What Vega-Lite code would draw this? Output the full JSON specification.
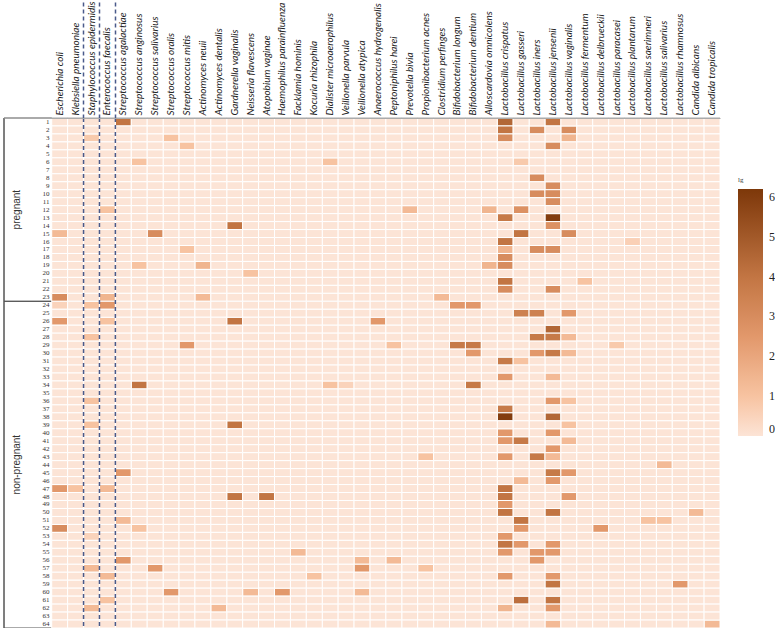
{
  "$schema": "https://vega.github.io/schema/vega-lite/v6.json",
  "padding": {"left": 3, "top": 0, "right": 0, "bottom": 0},
  "background": "white",
  "config": {"view": {"stroke": null}},
  "width": 716,
  "height": 510,
  "datasets": {
    "groups": [
      {"g": "pregnant", "a": 1, "b": 23, "m": 12},
      {"g": "non-pregnant", "a": 24, "b": 64, "m": 44}
    ],
    "dividers": [
      {"sp": "Staphylococcus epidermidis"},
      {"sp": "Enterococcus faecalis"},
      {"sp": "Streptococcus agalactiae"}
    ],
    "cells": [
      {"s":1,"sp":"Streptococcus agalactiae","v":4},{"s":1,"sp":"Lactobacillus crispatus","v":4.5},{"s":1,"sp":"Lactobacillus jensenii","v":4},
      {"s":2,"sp":"Lactobacillus crispatus","v":4},{"s":2,"sp":"Lactobacillus iners","v":3},{"s":2,"sp":"Lactobacillus vaginalis","v":3},
      {"s":3,"sp":"Staphylococcus epidermidis","v":0.8},{"s":3,"sp":"Streptococcus oralis","v":1},{"s":3,"sp":"Lactobacillus crispatus","v":3},{"s":3,"sp":"Lactobacillus vaginalis","v":1.5},
      {"s":4,"sp":"Streptococcus mitis","v":1},{"s":4,"sp":"Lactobacillus jensenii","v":3},
      {"s":6,"sp":"Streptococcus anginosus","v":1},{"s":6,"sp":"Dialister microaerophilus","v":1},{"s":6,"sp":"Lactobacillus gasseri","v":0.8},
      {"s":8,"sp":"Lactobacillus iners","v":3},
      {"s":9,"sp":"Lactobacillus jensenii","v":3},
      {"s":10,"sp":"Lactobacillus iners","v":3},{"s":10,"sp":"Lactobacillus jensenii","v":3},
      {"s":11,"sp":"Lactobacillus jensenii","v":3},
      {"s":12,"sp":"Enterococcus faecalis","v":1},{"s":12,"sp":"Prevotella bivia","v":1.3},{"s":12,"sp":"Alloscardovia omnicolens","v":1.5},{"s":12,"sp":"Lactobacillus gasseri","v":2.8},
      {"s":13,"sp":"Lactobacillus crispatus","v":3.8},{"s":13,"sp":"Lactobacillus jensenii","v":6},
      {"s":14,"sp":"Gardnerella vaginalis","v":4},{"s":14,"sp":"Lactobacillus jensenii","v":2.8},
      {"s":15,"sp":"Escherichia coli","v":1.3},{"s":15,"sp":"Streptococcus salivarius","v":3},{"s":15,"sp":"Lactobacillus gasseri","v":4},{"s":15,"sp":"Lactobacillus vaginalis","v":3},
      {"s":16,"sp":"Lactobacillus crispatus","v":4},{"s":16,"sp":"Lactobacillus plantarum","v":0.6},
      {"s":17,"sp":"Streptococcus mitis","v":1},{"s":17,"sp":"Lactobacillus crispatus","v":1.5},{"s":17,"sp":"Lactobacillus iners","v":3},{"s":17,"sp":"Lactobacillus jensenii","v":3},
      {"s":18,"sp":"Lactobacillus crispatus","v":3},
      {"s":19,"sp":"Streptococcus anginosus","v":1},{"s":19,"sp":"Actinomyces neuii","v":1.5},{"s":19,"sp":"Alloscardovia omnicolens","v":1.5},{"s":19,"sp":"Lactobacillus crispatus","v":3},
      {"s":20,"sp":"Neisseria flavescens","v":1},
      {"s":21,"sp":"Lactobacillus crispatus","v":4},{"s":21,"sp":"Lactobacillus fermentum","v":1},
      {"s":22,"sp":"Lactobacillus crispatus","v":3},{"s":22,"sp":"Lactobacillus jensenii","v":3},
      {"s":23,"sp":"Escherichia coli","v":3},{"s":23,"sp":"Enterococcus faecalis","v":1.5},{"s":23,"sp":"Actinomyces neuii","v":1.3},{"s":23,"sp":"Clostridium perfinges","v":1.3},
      {"s":24,"sp":"Escherichia coli","v":0.5},{"s":24,"sp":"Staphylococcus epidermidis","v":1},{"s":24,"sp":"Enterococcus faecalis","v":2.5},{"s":24,"sp":"Bifidobacterium longum","v":2.5},{"s":24,"sp":"Bifidobacterium dentium","v":2.5},
      {"s":25,"sp":"Lactobacillus gasseri","v":3.5},{"s":25,"sp":"Lactobacillus iners","v":3.5},{"s":25,"sp":"Lactobacillus vaginalis","v":2.5},
      {"s":26,"sp":"Escherichia coli","v":2.5},{"s":26,"sp":"Enterococcus faecalis","v":1},{"s":26,"sp":"Gardnerella vaginalis","v":4},{"s":26,"sp":"Anaerococcus hydrogenalis","v":2.5},
      {"s":27,"sp":"Lactobacillus jensenii","v":4.5},
      {"s":28,"sp":"Staphylococcus epidermidis","v":1},{"s":28,"sp":"Lactobacillus iners","v":3.8},{"s":28,"sp":"Lactobacillus jensenii","v":3.8},{"s":28,"sp":"Lactobacillus vaginalis","v":1.3},
      {"s":29,"sp":"Streptococcus mitis","v":2.5},{"s":29,"sp":"Peptoniphilus harei","v":1},{"s":29,"sp":"Bifidobacterium longum","v":3.8},{"s":29,"sp":"Bifidobacterium dentium","v":3.8},{"s":29,"sp":"Lactobacillus paracasei","v":0.8},
      {"s":30,"sp":"Bifidobacterium dentium","v":2.5},{"s":30,"sp":"Lactobacillus iners","v":2.5},{"s":30,"sp":"Lactobacillus jensenii","v":3.8},{"s":30,"sp":"Lactobacillus vaginalis","v":1.3},
      {"s":31,"sp":"Lactobacillus crispatus","v":3.8},{"s":31,"sp":"Lactobacillus gasseri","v":1},
      {"s":33,"sp":"Lactobacillus crispatus","v":2.5},{"s":33,"sp":"Lactobacillus jensenii","v":1.3},
      {"s":34,"sp":"Streptococcus anginosus","v":4},{"s":34,"sp":"Dialister microaerophilus","v":1},{"s":34,"sp":"Veillonella parvula","v":0.5},{"s":34,"sp":"Bifidobacterium dentium","v":3.8},
      {"s":36,"sp":"Staphylococcus epidermidis","v":1},{"s":36,"sp":"Lactobacillus jensenii","v":2.5},{"s":36,"sp":"Lactobacillus vaginalis","v":1},
      {"s":37,"sp":"Lactobacillus crispatus","v":3.8},
      {"s":38,"sp":"Lactobacillus crispatus","v":6},{"s":38,"sp":"Lactobacillus jensenii","v":4.5},
      {"s":39,"sp":"Staphylococcus epidermidis","v":1},{"s":39,"sp":"Gardnerella vaginalis","v":4},{"s":39,"sp":"Lactobacillus vaginalis","v":1},
      {"s":40,"sp":"Lactobacillus crispatus","v":2.5},{"s":40,"sp":"Lactobacillus jensenii","v":2.5},
      {"s":41,"sp":"Lactobacillus crispatus","v":2.5},{"s":41,"sp":"Lactobacillus gasseri","v":3.8},{"s":41,"sp":"Lactobacillus vaginalis","v":1.3},
      {"s":42,"sp":"Lactobacillus jensenii","v":2.5},
      {"s":43,"sp":"Propionibacterium acnes","v":1},{"s":43,"sp":"Lactobacillus crispatus","v":2.5},{"s":43,"sp":"Lactobacillus iners","v":3.8},{"s":43,"sp":"Lactobacillus jensenii","v":1.3},
      {"s":44,"sp":"Lactobacillus salivarius","v":1.3},
      {"s":45,"sp":"Streptococcus agalactiae","v":2.5},{"s":45,"sp":"Lactobacillus jensenii","v":3.8},{"s":45,"sp":"Lactobacillus vaginalis","v":2.5},
      {"s":46,"sp":"Lactobacillus gasseri","v":1.3},{"s":46,"sp":"Lactobacillus jensenii","v":2.5},
      {"s":47,"sp":"Escherichia coli","v":2.5},{"s":47,"sp":"Klebsiella pneumoniae","v":1},{"s":47,"sp":"Enterococcus faecalis","v":1.3},{"s":47,"sp":"Lactobacillus crispatus","v":4},
      {"s":48,"sp":"Gardnerella vaginalis","v":4},{"s":48,"sp":"Atopobium vaginae","v":4},{"s":48,"sp":"Lactobacillus crispatus","v":4},{"s":48,"sp":"Lactobacillus vaginalis","v":2.5},
      {"s":49,"sp":"Lactobacillus crispatus","v":2.5},
      {"s":50,"sp":"Lactobacillus crispatus","v":4},{"s":50,"sp":"Lactobacillus jensenii","v":4},{"s":50,"sp":"Candida albicans","v":1.3},
      {"s":51,"sp":"Streptococcus agalactiae","v":1.3},{"s":51,"sp":"Lactobacillus gasseri","v":4},{"s":51,"sp":"Lactobacillus saerimneri","v":1},{"s":51,"sp":"Lactobacillus salivarius","v":1},
      {"s":52,"sp":"Escherichia coli","v":3},{"s":52,"sp":"Streptococcus anginosus","v":1},{"s":52,"sp":"Lactobacillus gasseri","v":2.5},{"s":52,"sp":"Lactobacillus delbrueckii","v":2.5},
      {"s":53,"sp":"Staphylococcus epidermidis","v":0.5},{"s":53,"sp":"Lactobacillus crispatus","v":2.5},
      {"s":54,"sp":"Lactobacillus crispatus","v":4},{"s":54,"sp":"Lactobacillus gasseri","v":2.5},{"s":54,"sp":"Lactobacillus jensenii","v":2.5},
      {"s":55,"sp":"Facklamia hominis","v":1.3},{"s":55,"sp":"Lactobacillus crispatus","v":2.5},{"s":55,"sp":"Lactobacillus iners","v":2.5},{"s":55,"sp":"Lactobacillus jensenii","v":2.5},
      {"s":56,"sp":"Streptococcus agalactiae","v":2.5},{"s":56,"sp":"Veillonella atypica","v":1.3},{"s":56,"sp":"Peptoniphilus harei","v":1.3},{"s":56,"sp":"Lactobacillus iners","v":2.5},
      {"s":57,"sp":"Staphylococcus epidermidis","v":1.3},{"s":57,"sp":"Streptococcus salivarius","v":2.5},{"s":57,"sp":"Veillonella atypica","v":2.5},{"s":57,"sp":"Propionibacterium acnes","v":1},
      {"s":58,"sp":"Enterococcus faecalis","v":1.3},{"s":58,"sp":"Kocuria rhizophila","v":1},{"s":58,"sp":"Lactobacillus crispatus","v":2.5},{"s":58,"sp":"Lactobacillus jensenii","v":2.5},
      {"s":59,"sp":"Lactobacillus jensenii","v":4},{"s":59,"sp":"Lactobacillus rhamnosus","v":2.5},
      {"s":60,"sp":"Streptococcus oralis","v":2.5},{"s":60,"sp":"Neisseria flavescens","v":1.3},{"s":60,"sp":"Haemophilus parainfluenza","v":2.5},{"s":60,"sp":"Veillonella atypica","v":1.3},
      {"s":61,"sp":"Enterococcus faecalis","v":1},{"s":61,"sp":"Lactobacillus gasseri","v":4.2},{"s":61,"sp":"Lactobacillus jensenii","v":4},
      {"s":62,"sp":"Staphylococcus epidermidis","v":1.3},{"s":62,"sp":"Actinomyces dentalis","v":1.3},{"s":62,"sp":"Lactobacillus crispatus","v":1.5},{"s":62,"sp":"Lactobacillus jensenii","v":2.5},
      {"s":64,"sp":"Lactobacillus jensenii","v":1.3},{"s":64,"sp":"Candida tropicalis","v":1.3}
    ]
  },
  "layer": [
    {
      "data": {"name": "groups"},
      "mark": {"type": "rule", "color": "#555555", "strokeWidth": 1},
      "encoding": {
        "y": {"field": "a", "type": "ordinal", "bandPosition": 0}
      }
    },
    {
      "data": {"name": "groups"},
      "mark": {"type": "rule", "color": "#555555", "strokeWidth": 1},
      "encoding": {
        "y": {"field": "b", "type": "ordinal", "bandPosition": 1}
      }
    },
    {
      "data": {"name": "cells"},
      "transform": [
        {"impute": "v", "key": "s", "keyvals": [1,2,3,4,5,6,7,8,9,10,11,12,13,14,15,16,17,18,19,20,21,22,23,24,25,26,27,28,29,30,31,32,33,34,35,36,37,38,39,40,41,42,43,44,45,46,47,48,49,50,51,52,53,54,55,56,57,58,59,60,61,62,63,64], "groupby": ["sp"], "value": 0}
      ],
      "mark": {"type": "rect", "stroke": "white", "strokeWidth": 1},
      "encoding": {
        "x": {
          "field": "sp", "type": "nominal",
          "scale": {"paddingInner": 0, "paddingOuter": 0, "domain": ["_1","_2","_3","Escherichia coli","Klebsiella pneumoniae","Staphylococcus epidermidis","Enterococcus faecalis","Streptococcus agalactiae","Streptococcus anginosus","Streptococcus salivarius","Streptococcus oralis","Streptococcus mitis","Actinomyces neuii","Actinomyces dentalis","Gardnerella vaginalis","Neisseria flavescens","Atopobium vaginae","Haemophilus parainfluenza","Facklamia hominis","Kocuria rhizophila","Dialister microaerophilus","Veillonella parvula","Veillonella atypica","Anaerococcus hydrogenalis","Peptoniphilus harei","Prevotella bivia","Propionibacterium acnes","Clostridium perfinges","Bifidobacterium longum","Bifidobacterium dentium","Alloscardovia omnicolens","Lactobacillus crispatus","Lactobacillus gasseri","Lactobacillus iners","Lactobacillus jensenii","Lactobacillus vaginalis","Lactobacillus fermentum","Lactobacillus delbrueckii","Lactobacillus paracasei","Lactobacillus plantarum","Lactobacillus saerimneri","Lactobacillus salivarius","Lactobacillus rhamnosus","Candida albicans","Candida tropicalis"]},
          "axis": {
            "orient": "top", "title": null, "grid": false,
            "labelExpr": "indexof(datum.value, '_') == 0 ? '' : datum.value",
            "labelAngle": 270, "labelFont": "Lato", "labelFontStyle": "italic", "labelFontSize": 10, "labelColor": "#222222", "labelLimit": 200,
            "bandPosition": 0,
            "ticks": true, "tickSize": 116, "tickWidth": 1.5, "tickDash": [4, 3],
            "tickColor": {"condition": {"test": "indexof(['Staphylococcus epidermidis','Enterococcus faecalis','Streptococcus agalactiae'], datum.value) >= 0", "value": "#4a5a8a"}, "value": "transparent"},
            "labelPadding": -113,
            "domain": true, "domainColor": "#aaaaaa"
          }
        },
        "y": {
          "field": "s", "type": "ordinal",
          "axis": {"orient": "left", "offset": -46, "domain": false, "ticks": false, "labels": true, "labelFont": "Liberation Serif", "labelFontSize": 7, "labelColor": "#333333", "labelPadding": 1, "title": null, "grid": false}
        },
        "color": {
          "field": "v", "type": "quantitative",
          "scale": {"domain": [0, 1, 2.5, 4, 6.2], "range": ["#fce4d6", "#f7c3a1", "#e2986b", "#c27543", "#7d3809"]},
          "legend": {
            "title": "lg", "orient": "none", "legendX": 734, "legendY": 58, "direction": "vertical",
            "gradientLength": 247, "gradientThickness": 25, "gradientStrokeWidth": 0,
            "values": [0, 1, 2, 3, 4, 5, 6],
            "labelFont": "Liberation Serif", "labelFontSize": 12, "labelColor": "#222222", "labelOffset": 6,
            "titleFont": "Liberation Serif", "titleFontSize": 7, "titleFontWeight": "normal", "titleColor": "#333333", "titlePadding": 6
          }
        }
      }
    },
    {
      "data": {"name": "dividers"},
      "mark": {"type": "rule", "color": "#4a5a8a", "strokeDash": [4, 3], "strokeWidth": 1.5},
      "encoding": {
        "x": {"field": "sp", "type": "nominal", "bandPosition": 0}
      }
    },
    {
      "data": {"name": "groups"},
      "mark": {"type": "rule", "color": "#555555", "strokeWidth": 1},
      "encoding": {
        "x": {"datum": "_1", "bandPosition": 0}
      }
    },
    {
      "data": {"name": "groups"},
      "mark": {"type": "text", "angle": 270, "font": "Liberation Sans", "fontSize": 10, "color": "#333333"},
      "encoding": {
        "x": {"datum": "_1", "bandPosition": 0.8},
        "y": {"field": "m", "type": "ordinal"},
        "text": {"field": "g"}
      }
    }
  ]
}
